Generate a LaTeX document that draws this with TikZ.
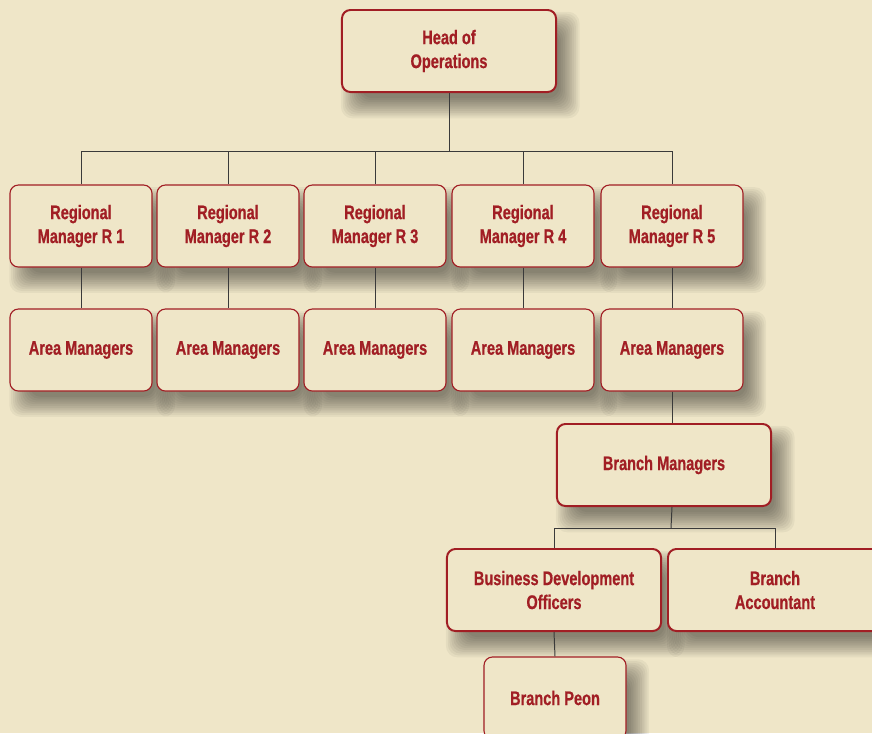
\documentclass[tikz,border=0pt]{standalone}
\usepackage{fontspec}
\newfontfamily\orgfont{Liberation Sans}[FakeStretch=0.74,FakeBold=0.6]
\usetikzlibrary{backgrounds}
\definecolor{parchment}{HTML}{EFE6C8}
\definecolor{orgred}{HTML}{A11E24}
\definecolor{linegray}{HTML}{3A3A3A}

% soft shadow below and right of a node
\newcommand{\orgshadow}[1]{%
  \foreach \k in {0,...,11}{%
    \fill[black, opacity=0.045, rounded corners=8pt]
      ([shift={(\k*1.3pt, -18pt+\k*1.3pt)}]#1.south west) rectangle
      ([shift={(16pt-\k*1.3pt, -2pt-\k*1.3pt)}]#1.north east);}}

\begin{document}
\begin{tikzpicture}[x=0.025cm,y=0.025cm,
    post/.style={rectangle, rounded corners=6pt, draw=orgred, fill=parchment, text=orgred,
      font=\orgfont\bfseries\fontsize{14}{17}\selectfont, align=center,
      minimum width=3.55cm, minimum height=2.05cm, inner sep=2pt},
    small/.style={post, line width=0.8pt},
    big/.style={post, line width=1.4pt, minimum width=5.35cm},
    link/.style={draw=linegray, line width=0.7pt}]

   \useasboundingbox (0,0) rectangle (872,-733);
   \begin{pgfonlayer}{background}
     \fill[parchment] (0,0) rectangle (872,-733);
   \end{pgfonlayer}

   % top of the chart
   \node[big] (head) at (449,-51) {Head of\\Operations};

   \foreach \x [count=\i] in {81,228,375,523,672} {
     \node[small] (r\i) at (\x,-226) {Regional\\Manager R \i};
     \node[small] (a\i) at (\x,-350) {Area Managers};
   }

   % branch level
   \node[big] (bm) at (664,-465) {Branch Managers};
   \node[big] (bdo) at (554,-590) {Business Development\\Officers};
   \node[big] (acc) at (775,-590) {Branch\\Accountant};
   \node[small] (peon) at (555,-698) {Branch Peon};

   \begin{scope}[on background layer]
     \foreach \n in {head,r1,r2,r3,r4,r5,a1,a2,a3,a4,a5,bm,bdo,acc,peon}
       \orgshadow{\n};
   \end{scope}

   \coordinate (top) at (449,-151);
   \coordinate (fork) at (671,-528);

   \draw[link] (head.south) -- (top);
   \foreach \i in {1,...,5} {
     \draw[link] (r\i.north) |- (top);
     \draw[link] (r\i.south) -- (a\i.north);
   }
   \draw[link] (a5.south) -- (a5.south |- bm.north);
   \draw[link] (a5.south |- bm.south) -- (fork);
   \draw[link] (bdo.north) |- (fork) -| (acc.north);
   \draw[link] (bdo.south) -- (peon.north);
 \end{tikzpicture}
\end{document}
